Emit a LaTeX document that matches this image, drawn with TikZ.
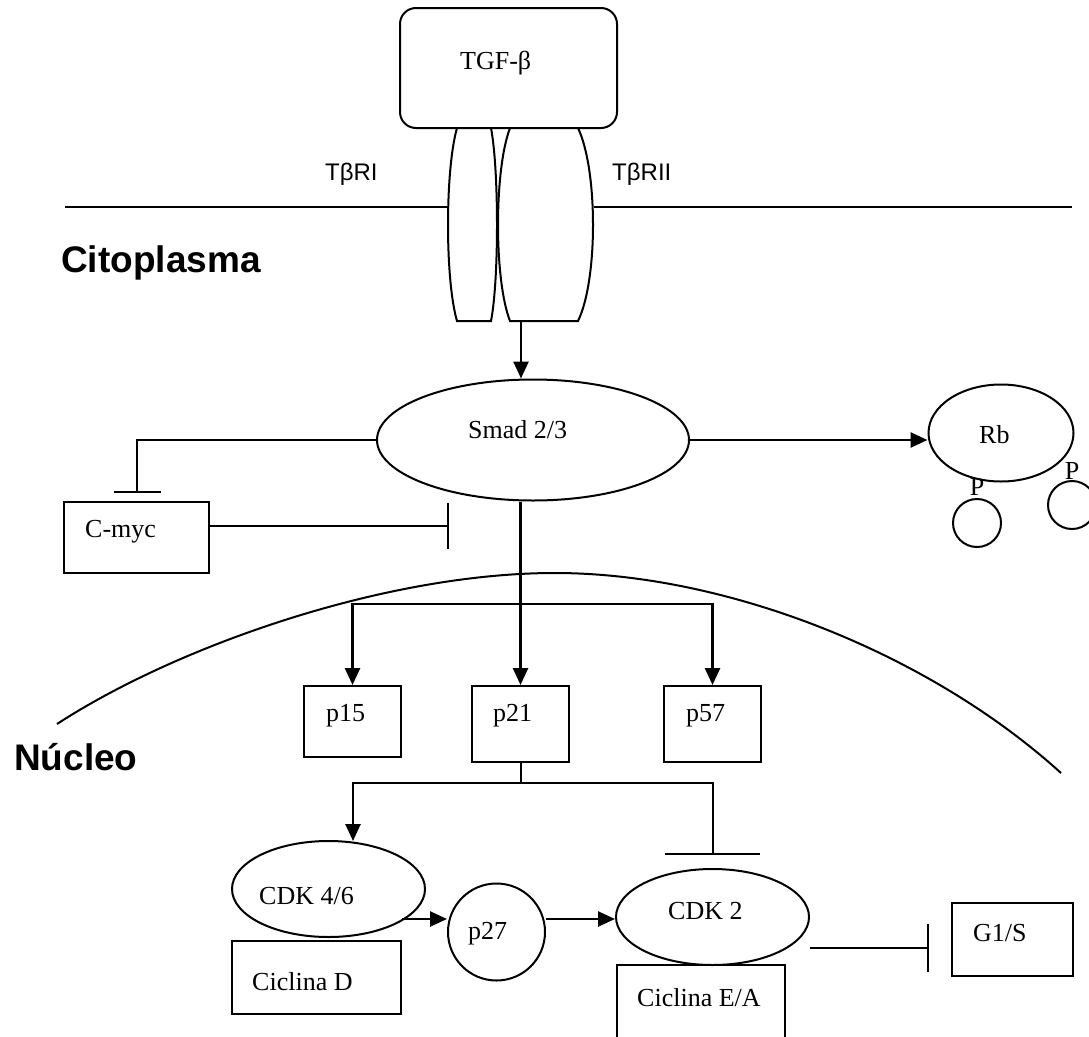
\documentclass[tikz,border=0pt]{standalone}
\usepackage{fontspec}
\setmainfont{Liberation Serif}
\setsansfont{Liberation Sans}
\usetikzlibrary{arrows.meta,shapes.geometric}
\begin{document}
\begin{tikzpicture}[x=1pt,y=-1pt,
  shp/.style={draw, line width=2pt, inner sep=0pt},
  arr/.style={line width=2.6pt, -{Triangle[length=17pt,width=15pt]}},
  inh/.style={line width=2pt, -{Bar[width=#1]}},
  thin/.style={line width=2pt},
  lbl/.style={inner sep=0pt, anchor=base west, font=\fontsize{26}{30}\selectfont},
  lblc/.style={inner sep=0pt, anchor=base, font=\fontsize{26}{30}\selectfont},
  slbl/.style={inner sep=0pt, anchor=base west, font=\sffamily\fontsize{24}{28}\selectfont},
  blbl/.style={inner sep=0pt, anchor=base west, font=\sffamily\bfseries\fontsize{37}{42}\selectfont}
]
\clip (0,0) rectangle (1089,1036);
\fill[white] (0,0) rectangle (1089,1036);

% TGF-beta and receptors
\node[shp, rectangle, rounded corners=16pt, minimum width=217pt, minimum height=120pt] (tgf) at (508.5,68) {};
\node[lbl] (tgftxt) at (460,69) {TGF-β};
\draw[line width=2pt] (457,128) .. controls (445,170) and (445,280) .. (457,321) -- (491,321) .. controls (499,280) and (499,170) .. (491,128);
\draw[line width=2pt] (510,128) .. controls (494,170) and (494,280) .. (510,321) -- (578,321) .. controls (598,280) and (598,170) .. (578,128);
\coordinate (r2b) at (521,321);

% membrane
\draw[thin] (65,207) -- (448,207);
\draw[thin] (594,207) -- (1072,207);
\node[slbl] (tr1) at (325,180) {TβRI};
\node[slbl] (tr2) at (612,180) {TβRII};
\node[blbl] (cito) at (61,272) {Citoplasma};
\node[blbl] (nuc) at (14,770) {Núcleo};

% Smad
\node[shp, ellipse, minimum width=312pt, minimum height=121pt] (smad) at (533,440) {};
\node[lbl] (smadtxt) at (468,438) {Smad 2/3};
\draw[arr] (r2b) -- (r2b |- smad.north);

% C-myc
\node[shp, rectangle, minimum width=145pt, minimum height=71pt] (cmyc) at (136.5,537.5) {};
\node[lbl] (cmyctxt) at (85,537) {C-myc};
\coordinate (cb) at (137,493);
\draw[inh=47pt] (smad.west) -| (cb);
\coordinate (ct) at (449,526);
\draw[inh=46pt] (cmyc.east |- ct) -- (ct);

% Rb
\node[shp, ellipse, minimum width=145pt, minimum height=97pt] (rb) at (1001,433) {};
\node[lbl] (rbtxt) at (979,443) {Rb};
\draw[arr] (smad.east) -- (rb.west |- smad.east);
\node[shp, circle, minimum size=48pt] (ph1) at (977,523) {};
\node[shp, circle, minimum size=48pt] (ph2) at (1072,505) {};
\node[lblc] (p1txt) at (977,495) {P};
\node[lblc] (p2txt) at (1072,479) {P};

% nucleus
\draw[thin] (57,724) .. controls (177,646) and (385,573) .. (555,573)
                     .. controls (725,573) and (928,652.4) .. (1061,773);

% p15 p21 p57
\node[shp, rectangle, minimum width=97pt, minimum height=71pt] (p15) at (352.5,721.5) {};
\node[shp, rectangle, minimum width=97pt, minimum height=76pt] (p21) at (520.5,724) {};
\node[shp, rectangle, minimum width=97pt, minimum height=76pt] (p57) at (712.5,724) {};
\node[lbl] (p15txt) at (326,721) {p15};
\node[lbl] (p21txt) at (493,721) {p21};
\node[lbl] (p57txt) at (686,721) {p57};
\draw[arr] (p21.north |- smad.south) -- (p21.north);
\coordinate (br) at (520.5,604);
\draw[arr] (br) -| (p15.north);
\draw[arr] (br) -| (p57.north);

% CDKs
\node[shp, ellipse, minimum width=193pt, minimum height=96pt] (cdk46) at (328.5,889) {};
\node[lbl] (cdk46txt) at (259,904) {CDK 4/6};
\node[shp, rectangle, minimum width=169pt, minimum height=73pt] (cycd) at (316.5,977.5) {};
\node[lbl] (cycdtxt) at (252,990) {Ciclina D};
\node[shp, circle, minimum size=97pt] (p27) at (496.5,932) {};
\node[lbl] (p27txt) at (468,939) {p27};
\node[shp, ellipse, minimum width=193pt, minimum height=96pt] (cdk2) at (712.5,917) {};
\node[lbl] (cdk2txt) at (668,919) {CDK 2};
\node[shp, rectangle, minimum width=168pt, minimum height=95pt] (cyce) at (701,1012.5) {};
\node[lbl] (cycetxt) at (637,1006) {Ciclina E/A};
\node[shp, rectangle, minimum width=121pt, minimum height=73pt] (g1s) at (1012.5,939.5) {};
\node[lbl] (g1stxt) at (973,941) {G1/S};

\coordinate (b2) at (520.5,783);
\draw[thin] (p21.south) -- (b2);
\coordinate (c46t) at (353,841);
\draw[arr] (b2) -| (c46t);
\coordinate (c2t) at (712.5,855);
\draw[inh=95pt] (b2) -| (c2t);
\coordinate (a1) at (402,919);
\draw[arr] (a1) -- (a1 -| p27.west);
\draw[arr] (p27.east |- a1) -- (cdk2.west |- a1);
\coordinate (gt) at (929,948);
\draw[inh=48pt] (cdk2.east |- gt) -- (gt);
\end{tikzpicture}
\end{document}
